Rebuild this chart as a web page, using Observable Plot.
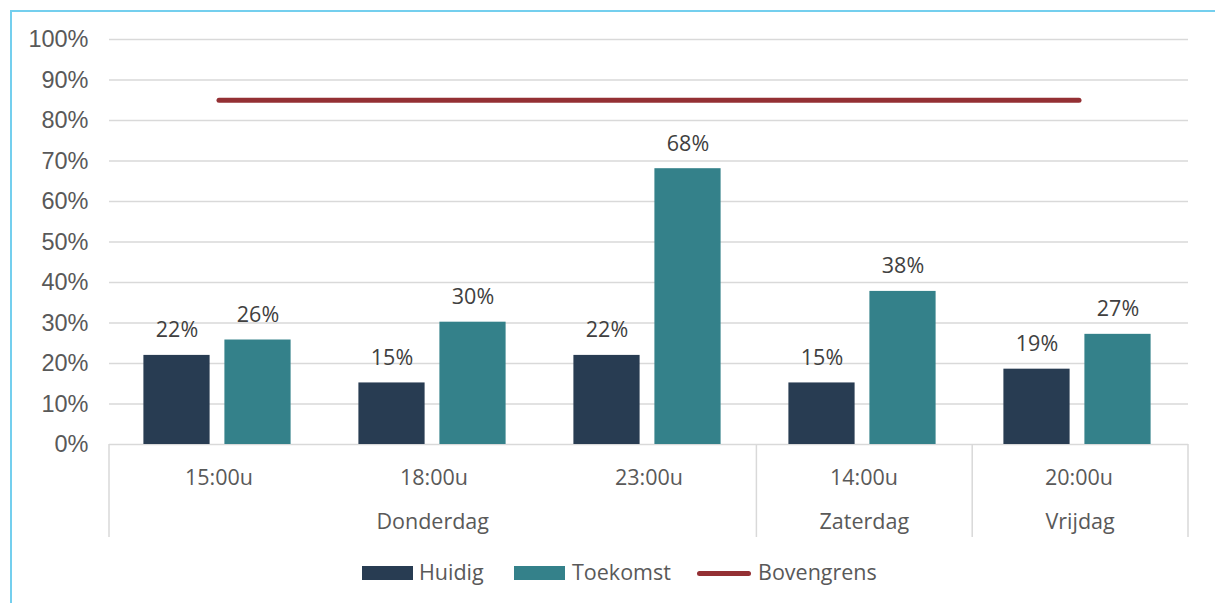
<!DOCTYPE html>
<html><head><meta charset="utf-8">
<script src="https://cdn.jsdelivr.net/npm/d3@7"></script>
<script src="https://cdn.jsdelivr.net/npm/@observablehq/plot@0.6"></script>
<style>
body{margin:0;background:#fff;width:1215px;height:603px;overflow:hidden;position:relative;font-family:"Open Sans",sans-serif;}
#frame{position:absolute;left:10px;top:10px;width:1230px;height:620px;border-left:2px solid #74cfee;border-top:2px solid #74cfee;}
#chart{position:absolute;left:0;top:0;}
.lg{position:absolute;font-size:21.5px;color:#595959;line-height:1;}
.sw{position:absolute;}
</style>
</head><body>
<div id="frame"></div>
<div id="chart"></div>
<div id="legend"></div>
<script>
const categories = ["15:00u","18:00u","23:00u","14:00u","20:00u"];
const days = ["Donderdag","Donderdag","Donderdag","Zaterdag","Vrijdag"];
const huidig = [22.0,15.2,22.0,15.2,18.6];
const toekomst = [25.8,30.2,68.1,37.8,27.2];
const bovengrens = [85,85,85,85,85];
const yTicks = [0,10,20,30,40,50,60,70,80,90,100];
const seriesNames = ["Huidig","Toekomst","Bovengrens"];
const colors = {Huidig:"#283c52",Toekomst:"#34818a",Bovengrens:"#943034"};

const rows = categories.map((c,i)=>({cat:c,day:days[i],huidig:huidig[i],toekomst:toekomst[i],grens:bovengrens[i]}));

const W=1215,H=560,mL=109,mR=27,mT=39,mB=116;
const FS=21.5;
const bw=(W-mL-mR)/categories.length;
const barW=67,gap=14,pad=(bw-2*barW-gap)/2-1.5;
const off=(barW+gap)/2;

const plot = Plot.plot({
  width:W,height:H,marginLeft:mL,marginRight:mR,marginTop:mT,marginBottom:mB,
  style:{fontFamily:"Open Sans",fontSize:FS+"px",color:"#595959",background:"transparent",overflow:"visible"},
  x:{type:"band",domain:categories,padding:0,axis:null},
  y:{domain:[0,100],axis:null},
  marks:[
    Plot.gridY(yTicks,{stroke:"#d9d9d9",strokeOpacity:1,strokeWidth:1.5}),
    Plot.axisY(yTicks,{tickSize:0,tickPadding:21,tickFormat:d=>d+"%",fontSize:23.5,fontFamily:"Liberation Sans, Arial, sans-serif",fill:"#595959"}),
    Plot.barY(rows,{x:"cat",y:"huidig",fill:colors.Huidig,insetLeft:pad,insetRight:bw-pad-barW}),
    Plot.barY(rows,{x:"cat",y:"toekomst",fill:colors.Toekomst,insetLeft:pad+barW+gap,insetRight:bw-pad-2*barW-gap}),
    Plot.text(rows,{x:"cat",y:"huidig",text:d=>Math.round(d.huidig)+"%",dx:-off-1.5,dy:-25,lineAnchor:"middle",fill:"#404040",fontSize:FS}),
    Plot.text(rows,{x:"cat",y:"toekomst",text:d=>Math.round(d.toekomst)+"%",dx:off-1.5,dy:-25,lineAnchor:"middle",fill:"#404040",fontSize:FS}),
    Plot.lineY(rows,{x:"cat",y:"grens",stroke:colors.Bovengrens,strokeWidth:5,strokeLinecap:"round"}),
    Plot.axisX(categories,{tickSize:0,tickPadding:25,fontSize:FS,fill:"#595959",label:null})
  ]
});
document.getElementById("chart").appendChild(plot);

// two-level category axis: separators and day labels
const xs = plot.scale("x");
const x0 = xs.range[0], step=(xs.range[1]-xs.range[0])/categories.length;
const svg = d3.select(plot);
const y0 = H-mB;
const groups=[];
days.forEach((d,i)=>{ if(!groups.length||groups[groups.length-1].day!==d) groups.push({day:d,start:i,end:i}); else groups[groups.length-1].end=i; });
const bounds=[0,...groups.map(g=>g.end+1)];
const g = svg.append("g");
bounds.forEach(b=>{
  g.append("line").attr("x1",x0+b*step).attr("x2",x0+b*step).attr("y1",y0).attr("y2",y0+93)
   .attr("stroke","#d9d9d9").attr("stroke-width",1.5);
});
groups.forEach(gr=>{
  g.append("text").attr("x",x0+(gr.start+gr.end+1)/2*step).attr("y",y0+78).attr("dy","0.32em")
   .attr("text-anchor","middle").attr("fill","#595959").attr("font-size",FS).attr("font-family","Open Sans").text(gr.day);
});

// legend
const lg=document.getElementById("legend");
const items=[{n:"Huidig",sx:362,tx:419,type:"box"},{n:"Toekomst",sx:514,tx:572,type:"box"},{n:"Bovengrens",sx:697,tx:758,type:"line"}];
items.forEach(it=>{
  const s=document.createElement("div");s.className="sw";
  if(it.type==="box"){Object.assign(s.style,{left:it.sx+"px",top:"566px",width:"51px",height:"14px",background:colors[it.n]});}
  else{Object.assign(s.style,{left:it.sx+"px",top:"571px",width:"54px",height:"5px",background:colors[it.n],borderRadius:"3px"});}
  lg.appendChild(s);
  const t=document.createElement("div");t.className="lg";t.textContent=it.n;
  Object.assign(t.style,{left:it.tx+"px",top:"561px"});
  lg.appendChild(t);
});
</script>
</body></html>
